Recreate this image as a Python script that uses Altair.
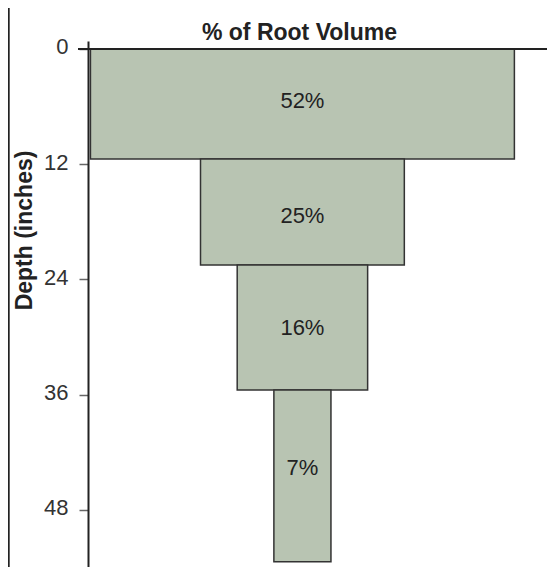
import altair as alt
import pandas as pd

# data
labels = ["52%", "25%", "16%", "7%"]
pct = [52, 25, 16, 7]
depth_top = [0, 11.45, 22.5, 35.5]
depth_bottom = [11.45, 22.5, 35.5, 53.4]
label_depth = [5.4, 17.4, 29.05, 43.6]
y_ticks = [0, 12, 24, 36, 48]

FONT = "Liberation Sans"
FILL = "#b8c4b2"

df = pd.DataFrame({"label": labels, "pct": pct, "top": depth_top,
                   "bottom": depth_bottom, "ly": label_depth})

H = 526
W = 459
xdom = [-26.3, 30.0]
ydom = [-0.83, -0.83 + H / 9.604]
xscale = alt.Scale(domain=xdom, nice=False, zero=False)
yscale = alt.Scale(domain=ydom, nice=False, zero=False, reverse=True)

base = alt.Chart(df).transform_calculate(
    x0="-datum.pct/2", x1="datum.pct/2", xm="0"
)

bars = base.mark_rect(fill=FILL, stroke="#333333", strokeWidth=1.5).encode(
    x=alt.X("x0:Q", scale=xscale, axis=None),
    x2="x1:Q",
    y=alt.Y("top:Q", scale=yscale,
            axis=alt.Axis(values=y_ticks, title="Depth  (inches)",
                          titleFont=FONT, titleFontSize=23, titleFontWeight="bold",
                          titleColor="#222222", titleAngle=-90,
                          titleBaseline="bottom", titleAlign="center",
                          titleX=-52, titleY=189,
                          labelFont=FONT, labelFontSize=22, labelColor="#333333",
                          labelPadding=11, labelOffset=-2,
                          tickSize=9, tickColor="#666666", tickWidth=1.5,
                          domainColor="#222222", domainWidth=2, grid=False)),
    y2="bottom:Q",
)

text = base.mark_text(font=FONT, fontSize=22, color="#222222",
                      baseline="middle", align="center").encode(
    x=alt.X("xm:Q", scale=xscale),
    y=alt.Y("ly:Q", scale=yscale),
    text="label:N",
)

top_line = alt.Chart(df).mark_rule(color="#222222", strokeWidth=2).encode(
    x=alt.datum(xdom[0] - 1.2, scale=xscale),
    x2=alt.datum(xdom[1] + 1.5),
    y=alt.datum(0, scale=yscale),
)

border = alt.Chart(df).mark_rule(color="#222222", strokeWidth=1.5).encode(
    x=alt.value(-79.5), y=alt.value(-33), y2=alt.value(H + 10)
)

chart = alt.layer(bars, top_line, text, border).properties(
    width=W, height=H,
    title=alt.TitleParams("% of Root Volume", font=FONT, fontSize=23,
                          fontWeight="bold", color="#222222", anchor="middle",
                          frame="group", dx=-18, dy=57, offset=1,
                          baseline="alphabetic"),
    autosize=alt.AutoSizeParams(type="none"),
    padding={"left": 80, "top": 33, "right": 0, "bottom": 0},
).configure_view(stroke=None)

chart.save("out.html", embed_options={"renderer": "svg", "actions": False})
